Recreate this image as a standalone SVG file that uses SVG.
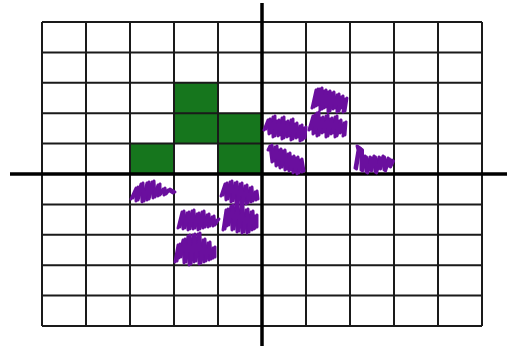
<svg xmlns="http://www.w3.org/2000/svg" xmlns:xlink="http://www.w3.org/1999/xlink" width="507" height="350" viewBox="0 0 507 350">
<style>
.grid{stroke:#1a1a1a;stroke-width:2;fill:none}
.axis{stroke:#000;stroke-width:3.5;fill:none}
.green{fill:#16761d}
.scr{stroke:#6a0f9e;stroke-width:3;fill:none;stroke-linejoin:round;stroke-linecap:round}
</style>
<rect width="507" height="350" fill="#fff"/>
<g id="filled-cells">
<rect class="green" x="174" y="82.8" width="44" height="30.4"/>
<rect class="green" x="174" y="113.2" width="88" height="30.4"/>
<rect class="green" x="130" y="143.6" width="44" height="30.4"/>
<rect class="green" x="218" y="143.6" width="44" height="30.4"/>
</g>
<g id="grid">
<path class="grid" d="M42,22V326M86,22V326M130,22V326M174,22V326M218,22V326M306,22V326M350,22V326M394,22V326M438,22V326M482,22V326"/>
<path class="grid" d="M42,22H482M42,52.4H482M42,82.8H482M42,113.2H482M42,143.6H482M42,204.4H482M42,234.8H482M42,265.2H482M42,295.6H482M42,326H482"/>
</g>
<g id="axes">
<path class="axis" d="M10,174H507"/>
<path class="axis" d="M262,3V346"/>
</g>
<g id="scribbles">
<path id="s1" class="scr" d="M312,108 L316,90 L316,106 L320,89 L320,110 L324,91 L324,108 L328,92 L328,112 L332,93 L333,109 L337,95 L337,112 L341,97 L341,108 L345,99 L343,112"/>
<use xlink:href="#s1" href="#s1" transform="translate(2,-1)"/>
<path id="s2" class="scr" d="M309,130 L313,116 L313,134 L317,113 L317,136 L321,118 L322,133 L326,116 L326,137 L330,119 L331,134 L335,117 L335,137 L339,121 L340,133 L344,123 L343,136"/>
<use xlink:href="#s2" href="#s2" transform="translate(2,-1)"/>
<path id="s3" class="scr" d="M264,130 L268,120 L269,134 L273,117 L273,137 L277,121 L278,136 L282,118 L282,139 L286,122 L287,137 L291,120 L291,140 L295,124 L296,138 L300,126 L300,141 L304,128 L303,139"/>
<use xlink:href="#s3" href="#s3" transform="translate(2,-1)"/>
<path id="s4" class="scr" d="M268,150 L270,146 L272,162 L275,147 L276,166 L279,150 L280,168 L283,151 L285,170 L288,154 L289,171 L292,157 L293,173 L296,158 L297,174 L300,160 L302,172"/>
<use xlink:href="#s4" href="#s4" transform="translate(2,-1)"/>
<path id="s5" class="scr" d="M355,168 L358,150 L357,146 L361,149 L361,170 L365,156 L366,172 L370,157 L370,170 L374,156 L375,172 L379,157 L379,168 L383,156 L384,170 L388,158 L389,166 L392,160"/>
<use xlink:href="#s5" href="#s5" transform="translate(1.5,1)"/>
<path id="s6" class="scr" d="M131,199 L136,188 L136,201 L141,184 L142,202 L147,183 L147,200 L152,182 L153,198 L158,185 L158,196 L163,189 L164,195 L168,190 L173,193"/>
<use xlink:href="#s6" href="#s6" transform="translate(2,-1)"/>
<path id="s7" class="scr" d="M221,196 L225,184 L226,200 L230,182 L231,202 L235,183 L236,204 L240,184 L241,205 L245,186 L246,204 L250,188 L251,202 L255,192 L256,200"/>
<use xlink:href="#s7" href="#s7" transform="translate(2,-1)"/>
<path id="s8" class="scr" d="M223,230 L226,210 L227,226 L231,206 L232,230 L236,204 L237,232 L241,206 L242,233 L246,210 L247,233 L251,212 L252,230 L255,216 L255,228"/>
<use xlink:href="#s8" href="#s8" transform="translate(2,-1)"/>
<path id="s9" class="scr" d="M178,228 L182,212 L183,229 L187,213 L188,230 L192,211 L193,229 L197,214 L198,230 L202,212 L203,228 L207,215 L208,227 L212,217 L213,226 L217,220"/>
<use xlink:href="#s9" href="#s9" transform="translate(2,-1)"/>
<path id="s10" class="scr" d="M175,262 L178,245 L179,258 L183,240 L184,263 L188,236 L189,265 L193,235 L194,262 L198,234 L199,264 L203,240 L204,262 L208,243 L209,260 L213,248 L213,258"/>
<use xlink:href="#s10" href="#s10" transform="translate(2,-1)"/>
</g>
</svg>
